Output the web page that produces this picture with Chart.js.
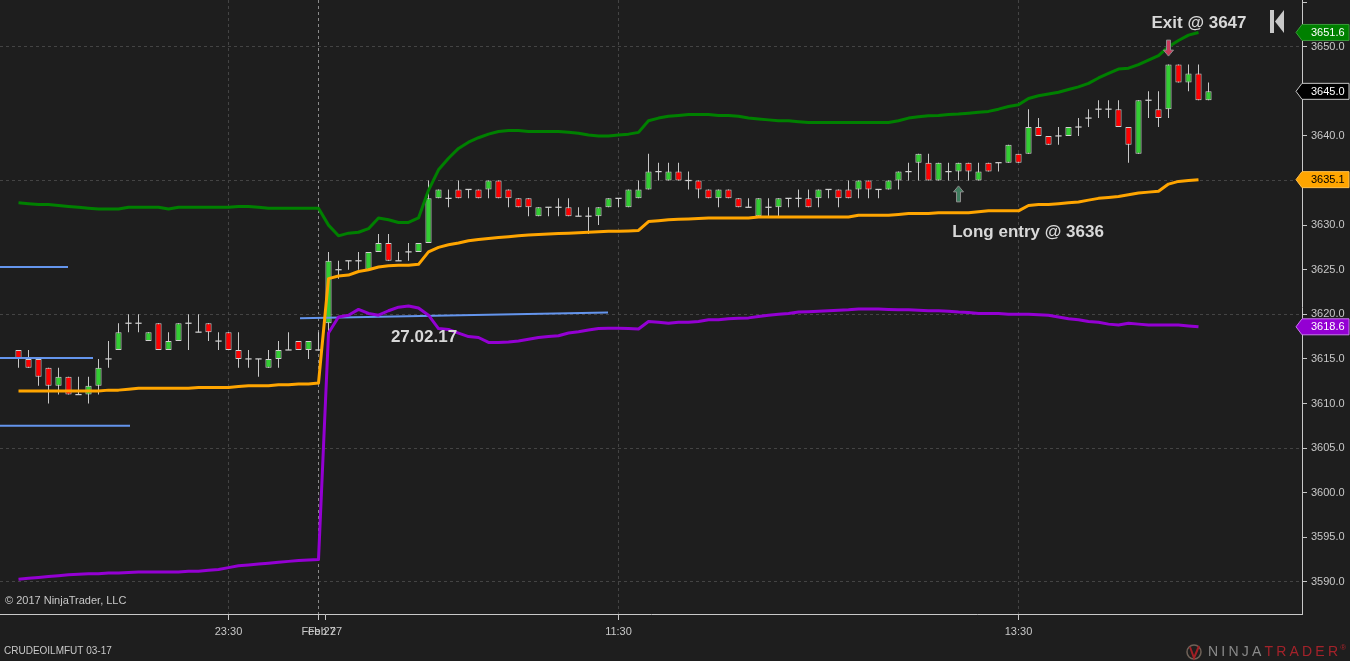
<!DOCTYPE html>
<html>
<head>
<meta charset="utf-8">
<title>CRUDEOILMFUT 03-17</title>
<script src="https://cdn.jsdelivr.net/npm/chart.js@4.4.1/dist/chart.umd.min.js"></script>
<style>
  html, body { margin: 0; padding: 0; background: #1e1e1e; overflow: hidden; }
  #wrap { width: 1350px; height: 661px; }
</style>
</head>
<body>
<div id="wrap"><canvas id="chart" width="1350" height="661"></canvas></div>
<script>
// bar prices, one entry per bar (index 0 = first bar on the left)
const opens = [
  3616,3615,3615,3614,3612,3613,3611,3611,3612,3615,
  3616,3619,3619,3617,3619,3616,3617,3619,3618,3619,
  3617,3618,3616,3615,3615,3614,3615,3616,3617,3616,
  3616,3619,3625,3626,3626,3625,3627,3628,3626,3627,
  3627,3628,3633,3633,3634,3634,3634,3634,3635,3634,
  3633,3633,3631,3632,3632,3632,3631,3631,3631,3632,
  3633,3632,3633,3634,3636,3635,3636,3635,3635,3634,
  3633,3634,3633,3632,3631,3632,3632,3633,3633,3633,
  3633,3634,3634,3634,3634,3635,3634,3634,3635,3636,
  3637,3637,3635,3636,3636,3637,3635,3637,3637,3637,
  3638,3638,3641,3640,3640,3640,3641,3642,3643,3643,
  3643,3641,3638,3644,3643,3643,3648,3646,3647,3644
];
const highs = [
  3616,3616,3615,3614,3614,3613,3613,3613,3615,3617,
  3619,3620,3620,3618,3619,3618,3619,3620,3620,3619,
  3618,3618,3618,3616,3615,3616,3617,3618,3617,3617,
  3618,3627,3626,3626,3627,3627,3629,3629,3627,3628,
  3628,3635,3634,3634,3635,3634,3634,3635,3635,3634,
  3633,3633,3632,3632,3633,3633,3632,3632,3632,3633,
  3633,3634,3635,3638,3637,3637,3637,3636,3635,3634,
  3634,3634,3633,3633,3633,3633,3633,3633,3634,3634,
  3634,3634,3634,3635,3635,3635,3634,3635,3636,3637,
  3638,3638,3637,3637,3637,3637,3637,3637,3637,3639,
  3638,3643,3642,3640,3641,3641,3642,3643,3644,3644,
  3644,3641,3644,3645,3645,3648,3648,3648,3648,3646
];
const lows = [
  3614,3614,3612,3610,3611,3611,3611,3610,3611,3614,
  3616,3618,3618,3617,3616,3616,3617,3616,3618,3617,
  3616,3616,3614,3614,3613,3614,3614,3616,3616,3615,
  3616,3618,3624,3625,3625,3625,3627,3626,3626,3626,
  3627,3628,3633,3632,3633,3633,3633,3633,3633,3632,
  3632,3631,3631,3631,3631,3631,3631,3629,3630,3632,
  3632,3632,3633,3634,3635,3635,3635,3634,3633,3633,
  3632,3633,3632,3632,3631,3631,3631,3632,3632,3632,
  3632,3633,3632,3633,3633,3633,3633,3634,3634,3635,
  3635,3635,3635,3635,3635,3635,3635,3636,3636,3637,
  3637,3638,3640,3639,3639,3640,3640,3641,3642,3642,
  3641,3637,3638,3642,3641,3642,3646,3645,3644,3644
];
const closes = [
  3615,3614,3613,3612,3613,3611,3611,3612,3614,3615,
  3618,3619,3619,3618,3616,3617,3619,3619,3618,3618,
  3617,3616,3615,3615,3615,3615,3616,3616,3616,3617,
  3616,3626,3625,3626,3626,3627,3628,3626,3626,3627,
  3628,3633,3634,3633,3633,3634,3633,3635,3633,3633,
  3632,3632,3632,3632,3632,3631,3631,3631,3632,3633,
  3633,3634,3634,3636,3636,3636,3635,3635,3634,3633,
  3634,3633,3632,3632,3633,3632,3633,3633,3633,3632,
  3634,3634,3633,3633,3635,3634,3634,3635,3636,3636,
  3638,3635,3637,3636,3637,3636,3636,3636,3637,3639,
  3637,3641,3640,3639,3640,3641,3641,3642,3643,3643,
  3641,3639,3644,3644,3642,3648,3646,3647,3644,3645
];

// channel indicator (upper / middle / lower)
const upperBand = [
  3632.5,3632.4,3632.3,3632.3,3632.2,3632.1,3632.0,3631.9,3631.8,3631.8,
  3631.8,3632.0,3632.0,3632.0,3632.0,3631.8,3632.0,3632.0,3632.0,3632.0,
  3632.0,3632.0,3632.1,3632.1,3632.0,3631.9,3631.9,3631.9,3631.9,3631.9,
  3631.9,3630.0,3628.8,3629.1,3629.2,3629.6,3630.8,3630.6,3630.3,3630.3,
  3630.8,3633.9,3636.2,3637.5,3638.6,3639.3,3639.8,3640.2,3640.5,3640.6,
  3640.6,3640.5,3640.5,3640.5,3640.5,3640.4,3640.3,3640.1,3640.0,3640.0,
  3640.1,3640.2,3640.4,3641.7,3642.0,3642.2,3642.3,3642.4,3642.4,3642.4,
  3642.3,3642.3,3642.2,3642.0,3641.9,3641.8,3641.7,3641.7,3641.6,3641.5,
  3641.5,3641.5,3641.5,3641.5,3641.5,3641.5,3641.5,3641.5,3641.7,3642.0,
  3642.15,3642.25,3642.3,3642.4,3642.45,3642.55,3642.65,3642.75,3643.0,3643.3,
  3643.5,3644.2,3644.5,3644.7,3644.9,3645.2,3645.5,3645.9,3646.5,3647.0,
  3647.5,3647.6,3648.0,3648.5,3649.0,3650.0,3650.7,3651.3,3651.6
];
const middleBand = [
  3611.4,3611.4,3611.4,3611.4,3611.4,3611.4,3611.4,3611.4,3611.4,3611.5,
  3611.5,3611.6,3611.7,3611.7,3611.7,3611.7,3611.7,3611.7,3611.8,3611.8,
  3611.8,3611.8,3611.9,3612.0,3612.0,3612.0,3612.1,3612.1,3612.2,3612.2,
  3612.3,3624.0,3624.3,3624.4,3624.8,3625.0,3625.3,3625.45,3625.5,3625.5,
  3625.6,3627.0,3627.5,3627.8,3628.0,3628.25,3628.4,3628.5,3628.6,3628.7,
  3628.8,3628.9,3628.95,3629.0,3629.05,3629.1,3629.15,3629.2,3629.25,3629.3,
  3629.3,3629.35,3629.4,3630.4,3630.5,3630.6,3630.65,3630.7,3630.75,3630.8,
  3630.8,3630.8,3630.8,3630.8,3630.9,3630.9,3630.9,3630.9,3630.9,3630.9,
  3630.9,3630.9,3630.9,3630.9,3631.1,3631.1,3631.1,3631.1,3631.2,3631.3,
  3631.3,3631.3,3631.4,3631.4,3631.4,3631.4,3631.5,3631.6,3631.6,3631.6,
  3631.6,3632.2,3632.3,3632.3,3632.4,3632.5,3632.6,3632.8,3633.0,3633.1,
  3633.2,3633.4,3633.6,3633.7,3633.8,3634.6,3634.9,3635.0,3635.1
];
const lowerBand = [
  3590.3,3590.4,3590.5,3590.6,3590.7,3590.8,3590.85,3590.9,3590.9,3591.0,
  3591.0,3591.05,3591.1,3591.1,3591.1,3591.1,3591.1,3591.2,3591.2,3591.3,
  3591.4,3591.6,3591.8,3591.9,3592.0,3592.1,3592.2,3592.3,3592.4,3592.45,
  3592.5,3617.9,3619.7,3619.9,3620.55,3620.1,3619.9,3620.4,3620.8,3620.93,
  3620.7,3619.9,3618.4,3618.3,3617.9,3617.5,3617.4,3616.85,3616.85,3616.9,
  3617.0,3617.2,3617.4,3617.5,3617.6,3617.9,3618.05,3618.24,3618.4,3618.45,
  3618.45,3618.4,3618.35,3619.2,3619.1,3619.0,3619.1,3619.1,3619.2,3619.4,
  3619.4,3619.5,3619.55,3619.6,3619.75,3619.9,3620.0,3620.1,3620.25,3620.3,
  3620.35,3620.4,3620.45,3620.5,3620.6,3620.6,3620.6,3620.55,3620.5,3620.5,
  3620.45,3620.4,3620.4,3620.35,3620.25,3620.2,3620.1,3620.1,3620.1,3620.0,
  3620.0,3620.0,3619.95,3619.9,3619.7,3619.5,3619.4,3619.2,3619.1,3618.9,
  3618.8,3619.0,3618.9,3618.8,3618.8,3618.8,3618.8,3618.7,3618.6
];

// blue pivot segments: bar index from / to, price at start / end
const pivotFrom  = [-2, -2, -2, 28.15];
const pivotTo    = [4.95, 7.45, 11.15, 58.95];
const pivotStart = [3625.3, 3615.1, 3607.5, 3619.55];
const pivotEnd   = [3625.3, 3615.1, 3607.5, 3620.2];

// axis ticks
const timeTicks  = [21, 30, 30.65, 60, 100];
const timeLabels = ['23:30', 'Feb 27', 'Feb 27', '11:30', '13:30'];
const sessionBreak = 30;
const priceTicks = [3590,3595,3600,3605,3610,3615,3620,3625,3630,3635,3640,3645,3650,3655];

// text notes and trade markers
const noteTexts  = ['27.02.17', 'Long entry @ 3636', 'Exit @ 3647'];
const noteIndex  = [40.55, 100.95, 118.05];
const notePrice  = [3617.45, 3629.2, 3652.65];
const signalIndex = [94, 115];
const signalPrice = [3634.4, 3648.95];
const signalDir   = ['up', 'down'];

const UP = '#32cd32', DOWN = '#ff0000', TEXT = '#c8c8c8';
const FONT = "'Liberation Sans', Arial, sans-serif";

const bars = closes.map((c, i) => i);
const bodyData = bars.map(i => ({
  x: i,
  y: opens[i] === closes[i] ? [opens[i] - 0.07, opens[i] + 0.07] : [opens[i], closes[i]]
}));
const wickData = bars.map(i => ({ x: i, y: [lows[i], highs[i]] }));

function bandSet(values, color) {
  return {
    type: 'line',
    data: values.map((v, i) => ({ x: i, y: v })),
    borderColor: color,
    borderWidth: 3,
    pointRadius: 0,
    tension: 0,
    borderJoinStyle: 'round',
    order: 0
  };
}

const pivotSets = pivotFrom.map((f, k) => ({
  type: 'line',
  data: [{ x: f, y: pivotStart[k] }, { x: pivotTo[k], y: pivotEnd[k] }],
  borderColor: '#6495ed',
  borderWidth: 2,
  pointRadius: 0,
  order: 0
}));

function drawArrow(ctx, x, yTip, dir, fill) {
  const s = dir === 'up' ? 1 : -1;
  ctx.beginPath();
  ctx.moveTo(x, yTip);
  ctx.lineTo(x + 5, yTip + 6 * s);
  ctx.lineTo(x + 2, yTip + 6 * s);
  ctx.lineTo(x + 2, yTip + 16 * s);
  ctx.lineTo(x - 2, yTip + 16 * s);
  ctx.lineTo(x - 2, yTip + 6 * s);
  ctx.lineTo(x - 5, yTip + 6 * s);
  ctx.closePath();
  ctx.fillStyle = fill;
  ctx.fill();
  ctx.strokeStyle = '#8c8c8c';
  ctx.lineWidth = 1;
  ctx.stroke();
}

function drawTag(ctx, area, y, text, fill, color, edge) {
  const r = area.right;
  ctx.beginPath();
  ctx.moveTo(r - 6, y);
  ctx.lineTo(r, y - 8);
  ctx.lineTo(1349, y - 8);
  ctx.lineTo(1349, y + 8);
  ctx.lineTo(r, y + 8);
  ctx.closePath();
  ctx.fillStyle = fill;
  ctx.fill();
  ctx.strokeStyle = edge;
  ctx.lineWidth = 1;
  ctx.stroke();
  ctx.fillStyle = color;
  ctx.font = '11px ' + FONT;
  ctx.textAlign = 'left';
  ctx.textBaseline = 'middle';
  ctx.fillText(text, r + 9, y + 0.5);
}

// no extra room around the plot for the first/last tick labels
function noPadding(scale) {
  scale.paddingTop = 0;
  scale.paddingBottom = 0;
  scale.paddingLeft = 0;
  scale.paddingRight = 0;
}

const overlay = {
  id: 'overlay',
  beforeDraw(chart) {
    const ctx = chart.ctx;
    ctx.save();
    ctx.fillStyle = '#1e1e1e';
    ctx.fillRect(0, 0, chart.width, chart.height);
    ctx.restore();
  },
  afterDatasetsDraw(chart) {
    const ctx = chart.ctx;
    const xs = chart.scales.x, ys = chart.scales.y;
    ctx.save();
    ctx.font = 'bold 17px ' + FONT;
    ctx.fillStyle = '#d8d8d8';
    ctx.textAlign = 'center';
    ctx.textBaseline = 'middle';
    noteTexts.forEach((t, k) => {
      ctx.fillText(t, xs.getPixelForValue(noteIndex[k]), ys.getPixelForValue(notePrice[k]));
    });
    signalIndex.forEach((i, k) => {
      const fill = signalDir[k] === 'up' ? '#3f7d5f' : '#c93a5c';
      drawArrow(ctx, xs.getPixelForValue(i), ys.getPixelForValue(signalPrice[k]), signalDir[k], fill);
    });
    ctx.restore();
  },
  afterDraw(chart) {
    const ctx = chart.ctx;
    const area = chart.chartArea;
    const ys = chart.scales.y;
    ctx.save();

    // last value markers on the price axis
    const last = closes.length - 1, lastBand = upperBand.length - 1;
    drawTag(ctx, area, ys.getPixelForValue(upperBand[lastBand]), upperBand[lastBand].toFixed(1), '#008000', '#ffffff', '#3a9a3a');
    drawTag(ctx, area, ys.getPixelForValue(closes[last]), closes[last].toFixed(1), '#000000', '#ffffff', '#c8c8c8');
    drawTag(ctx, area, ys.getPixelForValue(middleBand[lastBand]), middleBand[lastBand].toFixed(1), '#ffa500', '#000000', '#ffc04d');
    drawTag(ctx, area, ys.getPixelForValue(lowerBand[lastBand]), lowerBand[lastBand].toFixed(1), '#9400d3', '#ffffff', '#c87aee');

    // scroll-to-end button
    ctx.fillStyle = '#c8c8c8';
    ctx.fillRect(1270, 10, 4, 23);
    ctx.beginPath();
    ctx.moveTo(1284, 10);
    ctx.lineTo(1284, 33);
    ctx.lineTo(1275, 21.5);
    ctx.closePath();
    ctx.fill();

    // footer texts
    ctx.textAlign = 'left';
    ctx.textBaseline = 'middle';
    ctx.fillStyle = TEXT;
    ctx.font = '11px ' + FONT;
    ctx.fillText('\u00a9 2017 NinjaTrader, LLC', 5, 601);
    ctx.font = '10px ' + FONT;
    ctx.fillText('CRUDEOILMFUT 03-17', 4, 651);

    // logo
    ctx.strokeStyle = '#6f6258';
    ctx.lineWidth = 1.5;
    ctx.beginPath();
    ctx.arc(1194, 652, 7, 0, Math.PI * 2);
    ctx.stroke();
    ctx.strokeStyle = '#a11f24';
    ctx.lineWidth = 2;
    ctx.beginPath();
    ctx.moveTo(1190, 647);
    ctx.lineTo(1194, 658);
    ctx.lineTo(1199, 646);
    ctx.stroke();
    const word = 'NINJATRADER';
    ctx.font = '14px ' + FONT;
    let lx = 1208;
    for (let k = 0; k < word.length; k++) {
      ctx.fillStyle = k < 5 ? '#8a8a8a' : '#a3222a';
      ctx.fillText(word[k], lx, 652);
      lx += ctx.measureText(word[k]).width + 3.2;
    }
    ctx.font = '8px ' + FONT;
    ctx.fillText('\u00ae', lx - 1, 648);
    ctx.restore();
  }
};

new Chart(document.getElementById('chart'), {
  type: 'bar',
  data: {
    datasets: [
      bandSet(upperBand, '#008000'),
      bandSet(middleBand, '#ffa500'),
      bandSet(lowerBand, '#9400d3'),
      ...pivotSets,
      {
        type: 'bar',
        data: bodyData,
        grouped: false,
        barPercentage: 1.2,
        maxBarThickness: 7,
        backgroundColor: bars.map(i => opens[i] === closes[i] ? '#d0d0d0' : (closes[i] > opens[i] ? UP : DOWN)),
        borderColor: '#d0d0d0',
        borderWidth: bars.map(i => opens[i] === closes[i] ? 0 : 1),
        borderSkipped: false,
        order: 1
      },
      {
        type: 'bar',
        data: wickData,
        grouped: false,
        barPercentage: 1,
        maxBarThickness: 1,
        backgroundColor: '#c8c8c8',
        borderWidth: 0,
        order: 2
      }
    ]
  },
  options: {
    responsive: false,
    animation: false,
    events: [],
    layout: { padding: 0, autoPadding: false },
    plugins: {
      legend: { display: false },
      tooltip: { enabled: false }
    },
    scales: {
      x: {
        type: 'linear',
        min: -1.85,
        max: 128.35,
        offset: false,
        afterFit(scale) { scale.height = 47; noPadding(scale); },
        afterBuildTicks(scale) { scale.ticks = timeTicks.map(v => ({ value: v })); },
        grid: {
          offset: false,
          color: ctx => {
            const v = ctx.tick ? ctx.tick.value : null;
            if (v === sessionBreak) return '#8a8a8a';
            return timeTicks.indexOf(v) === 2 ? 'rgba(0,0,0,0)' : '#444444';
          },
          tickColor: '#c8c8c8',
          tickLength: 6
        },
        border: { display: true, color: '#c8c8c8', width: 1, dash: [3, 3] },
        ticks: {
          autoSkip: false,
          maxRotation: 0,
          minRotation: 0,
          padding: 5,
          color: TEXT,
          font: { family: FONT, size: 11 },
          callback: (v, i) => timeLabels[i]
        }
      },
      y: {
        type: 'linear',
        position: 'right',
        min: 3586.4,
        max: 3655.24,
        beginAtZero: false,
        afterFit(scale) { scale.width = 48; noPadding(scale); },
        afterBuildTicks(scale) { scale.ticks = priceTicks.map(v => ({ value: v })); },
        grid: {
          color: ctx => {
            const v = ctx.tick ? ctx.tick.value : 0;
            return (v - 3590) % 15 === 0 && v <= 3650 ? '#444444' : 'rgba(0,0,0,0)';
          },
          tickColor: '#c8c8c8',
          tickLength: 5
        },
        border: { display: true, color: '#c8c8c8', width: 1, dash: [3, 3] },
        ticks: {
          padding: 4,
          color: TEXT,
          font: { family: FONT, size: 11 },
          callback: v => v > 3650 ? '' : v.toFixed(1)
        }
      }
    }
  },
  plugins: [overlay]
});
</script>
</body>
</html>
